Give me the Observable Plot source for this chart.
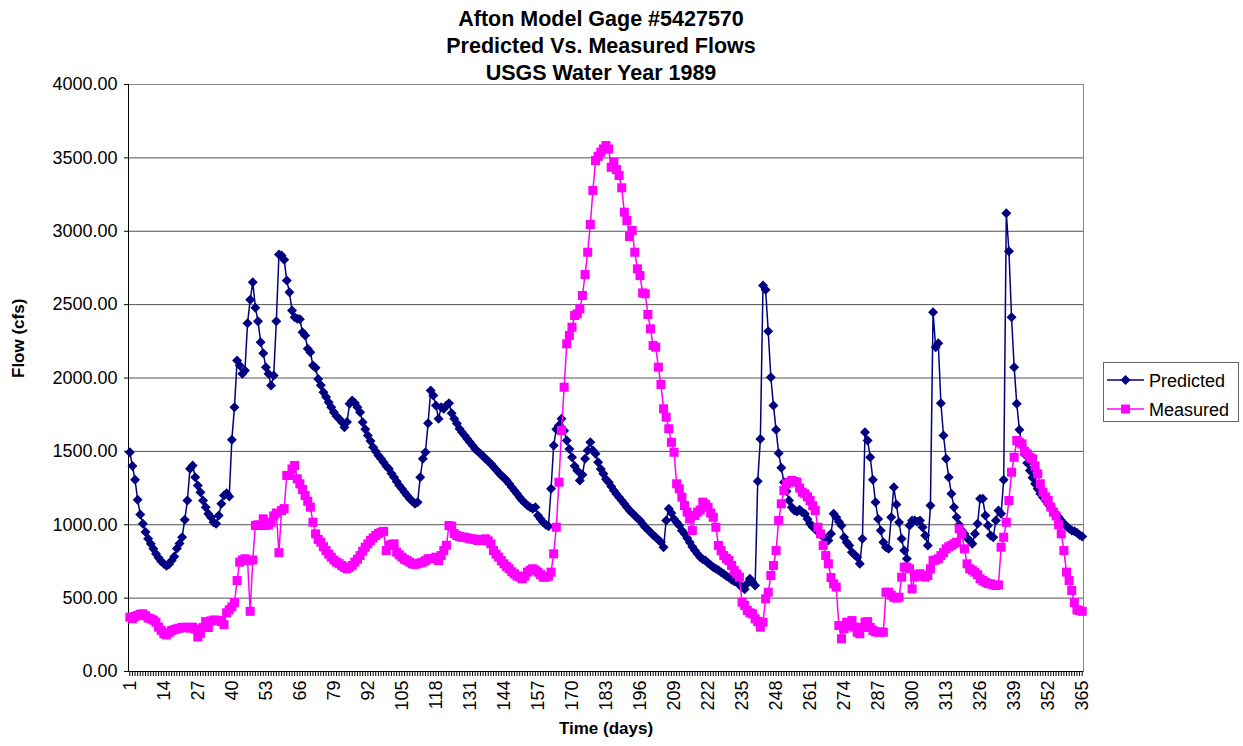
<!DOCTYPE html>
<html>
<head>
<meta charset="utf-8">
<script src="https://cdn.jsdelivr.net/npm/d3@7"></script>
<script src="https://cdn.jsdelivr.net/npm/@observablehq/plot@0.6"></script>
<style>
  body { margin: 0; background: #fff; }
  #wrap { position: relative; width: 1243px; height: 746px; background: #fff; font-family: "Liberation Sans", Arial, sans-serif; }
  #title { width: 1202px; height: 74px; box-sizing: border-box; padding-top: 6px; text-align: center; font-weight: bold; font-size: 21.5px; line-height: 27px; color: #000; }
  #legend { position: absolute; left: 1103px; top: 362px; }
</style>
</head>
<body>
<div id="wrap">
  <div id="title"></div>
  <div id="plot"></div>
</div>
<script>
const titleLines = ["Afton Model Gage #5427570", "Predicted Vs. Measured Flows", "USGS Water Year 1989"];
const seriesNames = ["Predicted", "Measured"];
const seriesColors = ["#000080", "#FF00FF"];
const yLabel = "Flow (cfs)";
const xLabel = "Time (days)";
const yTicks = [0, 500, 1000, 1500, 2000, 2500, 3000, 3500, 4000];
const xTickLabels = [1, 14, 27, 40, 53, 66, 79, 92, 105, 118, 131, 144, 157, 170, 183, 196, 209, 222, 235, 248, 261, 274, 287, 300, 313, 326, 339, 352, 365];

const predicted = [
  1494,1400,1306,1170,1070,1006,950,905,870,836,
  802,775,752,734,720,730,756,784,838,872,
  915,1034,1165,1381,1404,1324,1268,1222,1165,1120,
  1075,1051,1017,1006,1063,1143,1200,1215,1192,1580,
  1800,2119,2085,2029,2051,2373,2533,2653,2478,2387,
  2244,2169,2074,2029,1949,2017,2387,2841,2835,2805,
  2664,2585,2460,2414,2403,2400,2312,2290,2199,2176,
  2085,2070,1994,1950,1903,1870,1835,1800,1767,1740,
  1722,1700,1665,1700,1824,1847,1830,1801,1767,1699,
  1650,1608,1570,1528,1500,1472,1450,1426,1400,1381,
  1350,1324,1295,1267,1245,1222,1200,1177,1160,1143,
  1154,1324,1449,1494,1692,1915,1881,1813,1722,1801,
  1790,1813,1828,1760,1722,1690,1654,1630,1608,1585,
  1562,1540,1517,1500,1483,1466,1449,1432,1415,1395,
  1374,1355,1336,1320,1302,1280,1256,1233,1211,1188,
  1165,1148,1131,1120,1109,1120,1063,1040,1017,1000,
  990,1245,1540,1650,1676,1722,1640,1574,1517,1460,
  1400,1370,1302,1340,1450,1506,1562,1506,1483,1426,
  1380,1347,1310,1290,1260,1233,1210,1188,1165,1143,
  1120,1097,1080,1063,1045,1029,1005,983,966,949,
  930,915,898,881,847,1029,1109,1080,1040,1017,
  995,960,938,910,881,850,824,800,779,765,
  756,740,725,710,700,690,677,665,650,640,
  625,615,609,590,575,561,600,632,610,586,
  1297,1585,2630,2601,2319,2005,1813,1647,1488,1388,
  1290,1229,1165,1120,1097,1090,1102,1085,1075,1040,
  1006,985,972,950,938,915,905,893,938,1075,
  1051,1020,995,915,880,859,813,795,779,734,
  904,1631,1574,1460,1306,1154,1040,961,881,847,
  836,1051,1256,1138,1017,904,824,768,995,1029,
  1029,1020,1029,983,927,859,1131,2448,2210,2237,
  1828,1608,1449,1324,1211,1120,1051,1000,960,938,
  910,893,870,938,1006,1177,1177,1063,995,927,
  915,1029,1097,1075,1306,3123,2864,2414,2074,1824,
  1647,1540,1480,1420,1370,1320,1279,1245,1211,1188,
  1165,1140,1120,1097,1075,1051,1029,1006,990,975,
  961,955,945,930,920
];

const measured = [
  370,360,375,382,390,393,380,365,359,350,
  336,302,280,257,250,265,279,285,291,295,
  300,302,300,295,302,290,235,260,300,340,
  300,345,350,350,347,340,320,400,420,440,
  470,620,745,760,768,756,410,760,995,1000,
  995,1040,995,1000,1017,1060,1080,810,1097,1110,
  1336,1336,1380,1404,1313,1279,1240,1199,1160,1120,
  1017,938,900,881,850,824,800,779,760,745,
  735,722,710,700,710,722,745,765,790,820,
  847,870,893,910,927,940,949,955,824,859,
  865,870,813,795,779,765,756,745,734,730,
  734,740,745,755,768,768,770,779,756,790,
  824,860,995,990,940,927,920,915,915,910,
  904,904,900,893,893,900,904,890,870,824,
  800,779,755,734,715,700,680,666,650,643,
  632,650,677,690,700,690,677,660,643,643,
  650,677,802,983,1290,1642,1937,2233,2290,2346,
  2426,2437,2471,2562,2705,2857,3046,3278,3482,3510,
  3539,3561,3584,3560,3436,3471,3420,3380,3296,3130,
  3073,2964,3005,2857,2744,2698,2580,2574,2433,2335,
  2221,2210,2074,1956,1790,1733,1654,1562,1494,1279,
  1245,1188,1131,1086,1040,961,1063,1086,1100,1154,
  1140,1120,1080,1051,983,859,824,790,770,756,
  722,688,665,643,472,450,416,400,393,359,
  340,302,336,495,540,654,722,824,1029,1143,
  1233,1279,1290,1302,1295,1290,1250,1222,1211,1190,
  1165,1130,1097,983,938,859,790,734,640,597,
  575,313,223,291,336,310,347,302,268,257,
  300,336,340,300,280,270,268,268,268,540,
  540,520,506,500,506,643,711,711,700,563,
  643,660,666,650,643,654,700,756,760,768,
  790,810,836,850,859,870,881,972,938,836,
  734,700,690,677,660,632,620,609,600,597,
  590,586,590,847,915,1017,1165,1358,1460,1574,
  1560,1551,1500,1483,1460,1449,1400,1347,1279,1222,
  1190,1165,1120,1086,1060,1000,938,824,677,620,
  552,470,420,416,410
];

const days = predicted.map((_, i) => i + 1);
const predRows = predicted.map((v, i) => ({day: days[i], value: v}));
const measRows = measured.map((v, i) => ({day: days[i], value: v}));
const xDomain = [0.5, days.length + 0.5];

d3.select("#title").selectAll("div").data(titleLines).join("div").text(d => d);

const FONT = '"Liberation Sans", Arial, sans-serif';

const chart = Plot.plot({
  width: 1243,
  height: 672,
  marginTop: 10,
  marginBottom: 75,
  marginLeft: 128,
  marginRight: 160,
  style: {fontFamily: FONT, fontSize: "18px", background: "#fff", color: "#000", overflow: "visible"},
  x: {domain: xDomain},
  y: {domain: [yTicks[0], yTicks[yTicks.length - 1]]},
  marks: [
    Plot.gridY(yTicks, {stroke: "#333", strokeOpacity: 0.85, strokeWidth: 1}),
    Plot.frame({stroke: "#888"}),
    Plot.ruleY([yTicks[0]], {stroke: "#000"}),
    Plot.ruleX([xDomain[0]], {stroke: "#000"}),
    Plot.axisY({ticks: yTicks, tickFormat: d => d.toFixed(2), tickSize: 4, tickPadding: 7, label: null, fontSize: 18}),
    Plot.axisX({ticks: days, tickSize: 5, tickFormat: () => "", label: null}),
    Plot.axisX({ticks: xTickLabels, tickSize: 0, tickPadding: 9, tickRotate: -90, label: null, fontSize: 18}),
    Plot.text([yLabel], {text: d => d, frameAnchor: "left", dx: -110, rotate: -90, fontWeight: "bold", fontSize: 17}),
    Plot.text([xLabel], {text: d => d, frameAnchor: "bottom", dy: 62, fontWeight: "bold", fontSize: 17}),
    Plot.line(predRows, {x: "day", y: "value", stroke: seriesColors[0], strokeWidth: 1.5}),
    Plot.dot(predRows, {x: "day", y: "value", symbol: "diamond2", fill: seriesColors[0], stroke: "none", r: 4.5}),
    Plot.line(measRows, {x: "day", y: "value", stroke: seriesColors[1], strokeWidth: 1.5}),
    Plot.dot(measRows, {x: "day", y: "value", symbol: "square", fill: seriesColors[1], stroke: "none", r: 5.1})
  ]
});
document.getElementById("plot").appendChild(chart);

// Legend
const lg = d3.select("#wrap").append("svg").attr("id", "legend")
  .attr("width", 136).attr("height", 60)
  .style("font-family", FONT);
lg.append("rect").attr("x", 0.5).attr("y", 0.5).attr("width", 135).attr("height", 59)
  .attr("fill", "#fff").attr("stroke", "#666");
const symbols = [d3.symbolDiamond2, d3.symbolSquare];
const sizes = [62, 80];
seriesNames.forEach((name, i) => {
  const cy = 18 + i * 29;
  lg.append("line").attr("x1", 4).attr("x2", 41).attr("y1", cy).attr("y2", cy)
    .attr("stroke", seriesColors[i]).attr("stroke-width", 1.5);
  lg.append("path").attr("transform", `translate(22.5,${cy})`)
    .attr("d", d3.symbol(symbols[i], sizes[i])()).attr("fill", seriesColors[i]);
  lg.append("text").attr("x", 46).attr("y", cy + 7).attr("font-size", 18).text(name);
});
</script>
</body>
</html>
